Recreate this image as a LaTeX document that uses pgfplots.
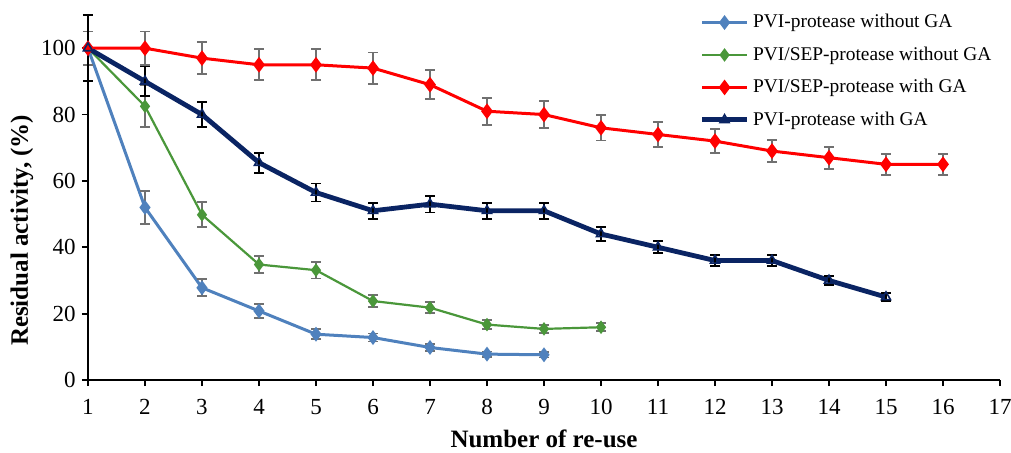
\documentclass[border=0pt]{standalone}
\usepackage{pgfplots}
\pgfplotsset{compat=1.18}
\usepackage{fontspec}
\setmainfont{Liberation Serif}
\definecolor{cblue}{HTML}{4F81BD}
\definecolor{cgreen}{HTML}{4A973A}
\definecolor{cred}{HTML}{FF0000}
\definecolor{cnavy}{HTML}{0A2463}
\definecolor{cgray}{HTML}{707070}
\begin{document}
\begin{tikzpicture}
\useasboundingbox (-44pt,-36pt) rectangle (461.5pt,190pt);
\begin{axis}[
  anchor=south west, at={(0,0)},
  scale only axis,
  width=456pt, height=182.5pt,
  xmin=1, xmax=17, ymin=0, ymax=110,
  xtick={1,...,17}, ytick={0,20,40,60,80,100},
  axis x line*=bottom, axis y line*=left,
  axis line style={-, black, line width=0.9pt},
  tick align=outside, major tick length=3pt,
  tick style={black, line width=0.9pt},
  /pgf/number format/assume math mode=true,
  ticklabel style={font=\fontsize{11.5}{12}\selectfont, inner sep=0pt},
  xticklabel style={yshift=-6.5pt},
  yticklabel style={xshift=-3pt},
  xlabel={\textbf{Number of re-use}},
  ylabel={\textbf{Residual activity, (\%)}},
  label style={font=\fontsize{12.5}{14}\selectfont},
  xlabel style={at={(axis description cs:0.5,-0.162)}, anchor=center},
  ylabel style={at={(axis description cs:-0.0724,0.41)}, anchor=center},
  clip=false,
  legend style={draw=none, fill=none, at={(0.664,1.025)}, anchor=north west,
    font=\fontsize{9.7}{11}\selectfont, row sep=4pt, cells={anchor=west}},
  legend image code/.code={\draw[mark repeat=2,mark phase=2,#1] plot coordinates {(0cm,0cm)(0.39cm,0cm)(0.78cm,0cm)};},
  error bars/y dir=both, error bars/y explicit,
]
\addplot[cblue, line width=1.5pt, mark=diamond*, mark size=2.5pt,
  error bars/error bar style={cgray, line width=0.9pt},
  error bars/error mark options={rotate=90, cgray, line width=0.9pt, mark size=2.5pt}]
  coordinates {
  (1,100) +- (0,0)
  (2,52) +- (0,5)
  (3,27.8) +- (0,2.6)
  (4,20.8) +- (0,2)
  (5,13.8) +- (0,1.5)
  (6,12.8) +- (0,1.2)
  (7,9.8) +- (0,1)
  (8,7.8) +- (0,0.8)
  (9,7.6) +- (0,0.8)
  };
\addlegendentry{PVI-protease without GA}
\addplot[cgreen, line width=1.1pt, mark=diamond*, mark size=2.5pt,
  error bars/error bar style={cgray, line width=0.9pt},
  error bars/error mark options={rotate=90, cgray, line width=0.9pt, mark size=2.5pt}]
  coordinates {
  (1,100) +- (0,0)
  (2,82.5) +- (0,6.3)
  (3,49.8) +- (0,3.8)
  (4,34.8) +- (0,2.6)
  (5,33.1) +- (0,2.5)
  (6,23.8) +- (0,1.8)
  (7,21.8) +- (0,1.7)
  (8,16.7) +- (0,1.3)
  (9,15.4) +- (0,1.2)
  (10,15.9) +- (0,1.2)
  };
\addlegendentry{PVI/SEP-protease without GA}
\addplot[cred, line width=1.5pt, mark=diamond*, mark size=2.7pt,
  error bars/error bar style={cgray, line width=0.9pt},
  error bars/error mark options={rotate=90, cgray, line width=0.9pt, mark size=2.5pt}]
  coordinates {
  (1,100) +- (0,5)
  (2,100) +- (0,5)
  (3,97) +- (0,4.8)
  (4,95) +- (0,4.7)
  (5,95) +- (0,4.7)
  (6,94) +- (0,4.7)
  (7,89) +- (0,4.4)
  (8,81) +- (0,4.1)
  (9,80) +- (0,4)
  (10,76) +- (0,3.8)
  (11,74) +- (0,3.7)
  (12,72) +- (0,3.6)
  (13,69) +- (0,3.4)
  (14,67) +- (0,3.3)
  (15,65) +- (0,3.2)
  (16,65) +- (0,3.2)
  };
\addlegendentry{PVI/SEP-protease with GA}
\addplot[cnavy, line width=2.4pt, mark=triangle, mark size=2.6pt,
  mark options={line width=0.8pt, fill=white},
  error bars/error bar style={black, line width=0.9pt},
  error bars/error mark options={rotate=90, black, line width=0.9pt, mark size=2.5pt}]
  coordinates {
  (1,100) +- (0,10)
  (2,90) +- (0,4.5)
  (3,80) +- (0,3.8)
  (4,65.5) +- (0,3)
  (5,56.5) +- (0,2.7)
  (6,51) +- (0,2.4)
  (7,53) +- (0,2.5)
  (8,51) +- (0,2.4)
  (9,51) +- (0,2.4)
  (10,44) +- (0,2)
  (11,40) +- (0,1.8)
  (12,36) +- (0,1.6)
  (13,36) +- (0,1.6)
  (14,30) +- (0,1.4)
  (15,25) +- (0,1.2)
  };
\addlegendentry{PVI-protease with GA}
\end{axis}
\end{tikzpicture}
\end{document}
